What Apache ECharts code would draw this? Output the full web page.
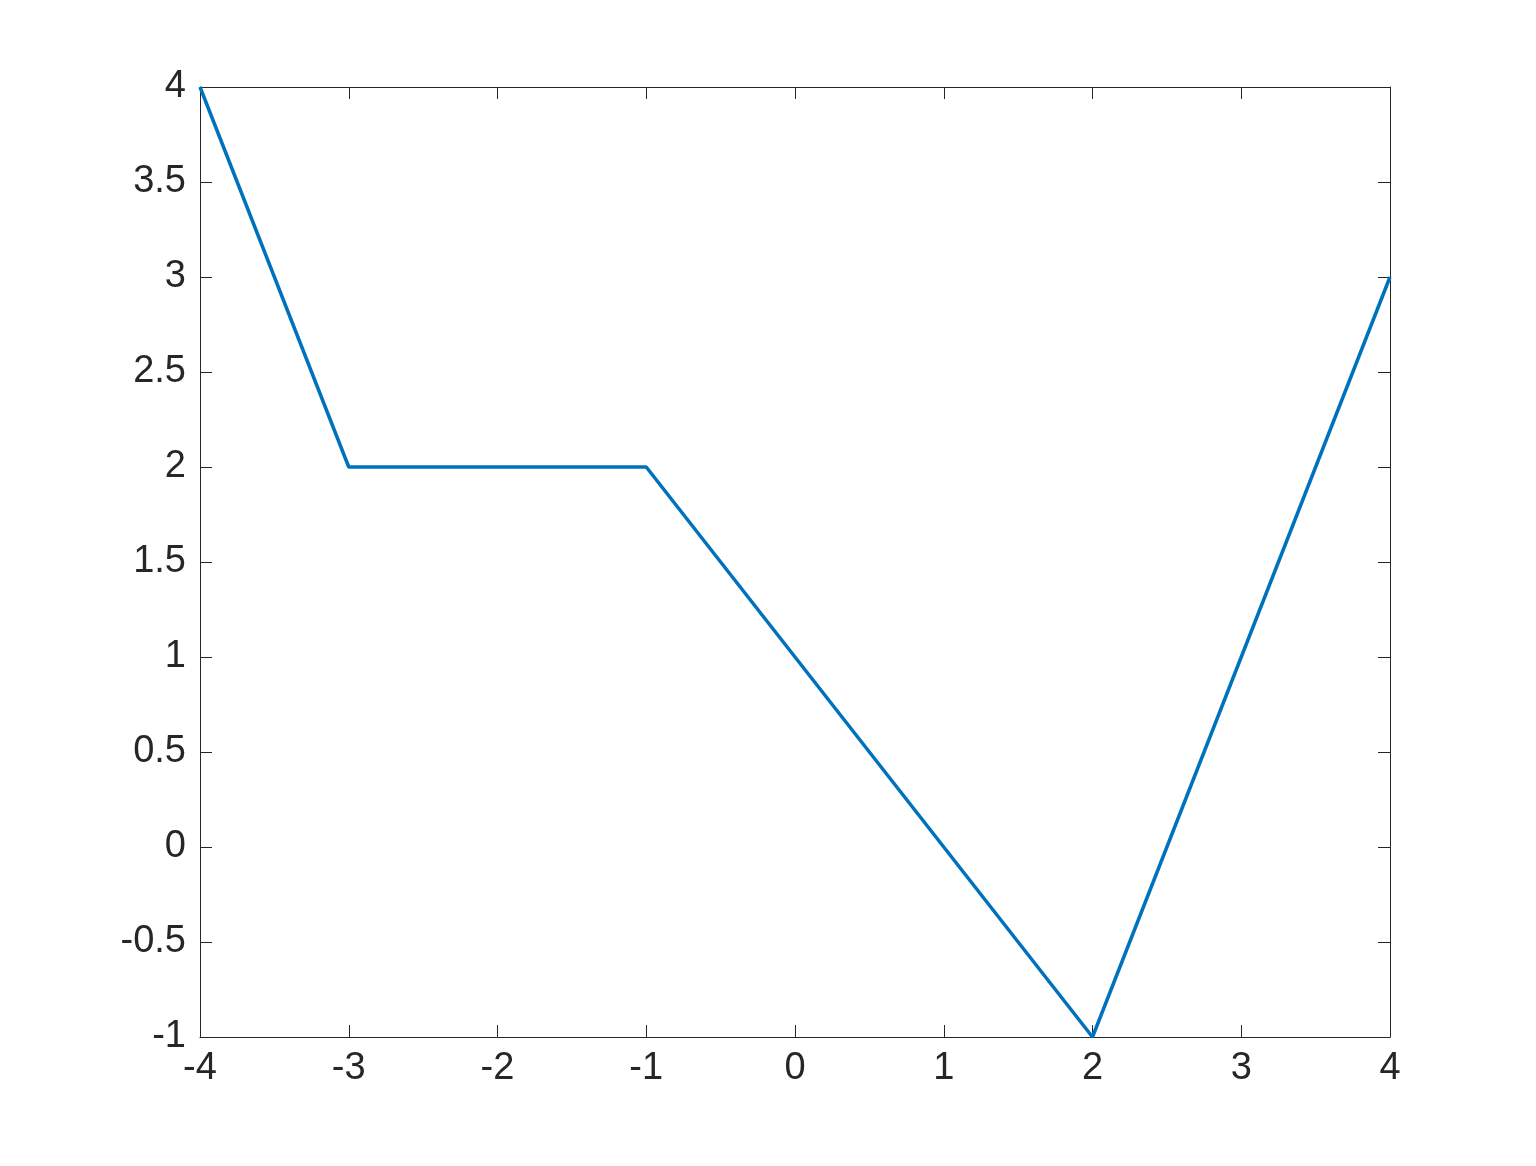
<!DOCTYPE html>
<html><head><meta charset="utf-8">
<script src="https://cdn.jsdelivr.net/npm/echarts@6/dist/echarts.min.js"></script>
<style>html,body{margin:0;padding:0;background:#fff}#c{width:1536px;height:1166px}</style>
</head><body><div id="c"></div>
<script>
const xValues = [-4, -3, -1, 2, 4];
const yValues = [4, 2, 2, -1, 3];
const xTicks = [-4, -3, -2, -1, 0, 1, 2, 3, 4];
const yTicks = [-1, -0.5, 0, 0.5, 1, 1.5, 2, 2.5, 3, 3.5, 4];

const axisColor = '#262626';
const font = 'Liberation Sans, Arial, Helvetica, sans-serif';
const chart = echarts.init(document.getElementById('c'), null, {renderer: 'canvas'});
function fmt(v){ return String(v); }
const baseX = {
  type: 'value', min: xTicks[0], max: xTicks[xTicks.length-1], interval: 1,
  axisLine: {show: true, onZero: false, lineStyle: {color: axisColor, width: 1}},
  axisTick: {show: true, inside: true, length: 12, lineStyle: {color: axisColor, width: 1}},
  splitLine: {show: false}
};
const baseY = {
  type: 'value', min: yTicks[0], max: yTicks[yTicks.length-1], interval: 0.5,
  axisLine: {show: true, onZero: false, lineStyle: {color: axisColor, width: 1}},
  axisTick: {show: true, inside: true, length: 12, lineStyle: {color: axisColor, width: 1}},
  splitLine: {show: false}
};
chart.setOption({
  animation: false,
  backgroundColor: '#ffffff',
  grid: {left: 200, right: 146, top: 87, bottom: 129, containLabel: false},
  xAxis: [
    Object.assign({}, baseX, {position: 'bottom',
      axisLabel: {show: true, color: axisColor, fontSize: 38, fontFamily: font, margin: 13, formatter: fmt}}),
    Object.assign({}, baseX, {position: 'top', axisLabel: {show: false}})
  ],
  yAxis: [
    Object.assign({}, baseY, {position: 'left',
      axisLabel: {show: true, color: axisColor, fontSize: 38, fontFamily: font, margin: 14, formatter: fmt}}),
    Object.assign({}, baseY, {position: 'right', axisLabel: {show: false}})
  ],
  series: [{
    type: 'line',
    data: xValues.map((x, i) => [x, yValues[i]]),
    showSymbol: false,
    symbol: 'none',
    lineStyle: {color: '#0072BD', width: 3.5},
    clip: false
  }]
});
</script></body></html>
